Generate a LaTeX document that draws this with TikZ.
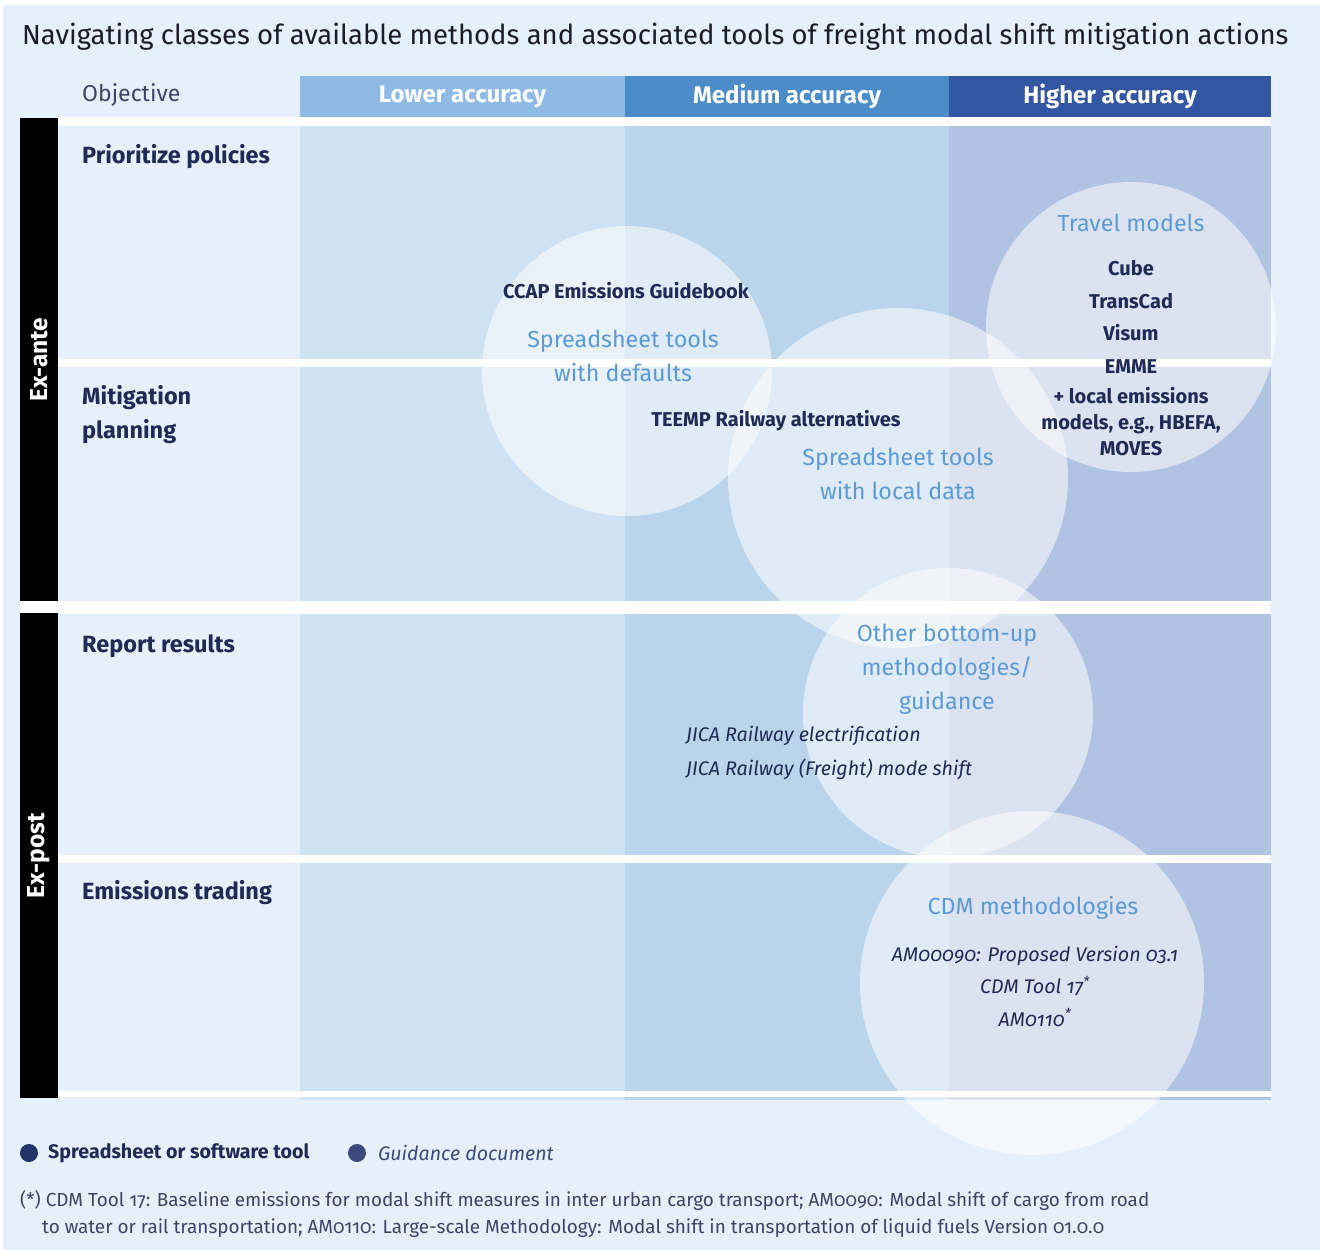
\documentclass[tikz,border=0pt]{standalone}
\usepackage{fontspec}
\setmainfont{Fira Sans}[Numbers=OldStyle]
\definecolor{bgblue}{HTML}{E6F0FA}
\definecolor{cellA}{HTML}{CFE2F3}
\definecolor{cellB}{HTML}{BAD4EC}
\definecolor{cellC}{HTML}{B0C3E2}
\definecolor{hdrA}{HTML}{8EBAE5}
\definecolor{hdrB}{HTML}{4B8CC9}
\definecolor{hdrC}{HTML}{3356A2}
\definecolor{navy}{HTML}{1F2A55}
\definecolor{skyblue}{HTML}{5C9AD5}
\definecolor{slate}{HTML}{3D4466}
\definecolor{titlecol}{HTML}{1C1C28}
\definecolor{dotA}{HTML}{22336A}
\definecolor{dotB}{HTML}{3C4A7C}
\newcommand{\fsz}[2]{\fontsize{#1}{#2}\selectfont}
\begin{document}
\begin{tikzpicture}[x=1pt,y=-1pt,
  hdr/.style={fill=#1,text=white,font=\bfseries\fsz{24}{26},minimum height=41pt,minimum width=324pt,inner sep=0pt,anchor=center},
  rowlabel/.style={text=navy,font=\bfseries\fsz{23.5}{34},anchor=west,align=left,inner sep=0pt},
  sidebar/.style={fill=black,minimum width=38pt,inner sep=0pt},
  sidetext/.style={text=white,font=\bfseries\fsz{24.5}{26},rotate=90,inner sep=0pt},
  bubble/.style={circle,fill=white,fill opacity=0.55,inner sep=0pt,minimum size=#1},
  classname/.style={text=skyblue,font=\fsz{23.3}{34},align=center,inner sep=0pt},
  toolname/.style={text=navy,font=\bfseries\fsz{20}{26},align=center,inner sep=0pt},
  guidename/.style={text=navy,font=\itshape\fsz{19.7}{32.5},align=center,inner sep=0pt},
  note/.style={text=slate,font=\fsz{18.9}{22},anchor=west,inner sep=0pt}]
\useasboundingbox (0,0) rectangle (1320,1250);
\fill[white] (0,0) rectangle (1320,1250);
\fill[bgblue] (3,5) rectangle (1320,1250);

% title
\node[text=titlecol,font=\fsz{27.5}{30},anchor=west,inner sep=0pt] (title) at (22,37)
  {Navigating classes of available methods and associated tools of freight modal shift mitigation actions};

% column header
\node[text=slate,font=\fsz{23}{26},anchor=west,inner sep=0pt] (objective) at (82,95) {Objective};
\node[hdr=hdrA,minimum width=325pt] (hlow) at (462.5,96.5) {Lower accuracy};
\node[hdr=hdrB,minimum width=324pt] (hmed) at (787,96.5) {Medium accuracy};
\node[hdr=hdrC,minimum width=322pt] (hhigh) at (1110,96.5) {Higher accuracy};

% accuracy columns
\fill[cellA] (300,118) rectangle (625,1100);
\fill[cellB] (625,118) rectangle (949,1100);
\fill[cellC] (949,118) rectangle (1271,1100);

% white separators between rows
\fill[white] (58,117) rectangle (1271,126);
\fill[white] (58,359) rectangle (1271,367);
\fill[white] (20,601) rectangle (1271,614);
\fill[white] (58,855) rectangle (1271,863);
\fill[white] (58,1091) rectangle (1271,1097);

% phase bars
\node[sidebar,minimum height=483pt,anchor=north west] (exante) at (20,118) {};
\node[sidebar,minimum height=485pt,anchor=north west] (expost) at (20,613) {};
\node[sidetext] (exantetxt) at (exante.center) {Ex-ante};
\node[sidetext] (exposttxt) at (expost.center) {Ex-post};

% objectives
\node[rowlabel] (prio) at (82,157) {Prioritize policies};
\node[rowlabel] (mitig) at (82,415) {Mitigation\\planning};
\node[rowlabel] (report) at (82,646) {Report results};
\node[rowlabel] (trade) at (82,893) {Emissions trading};

% method classes
\node[bubble=290pt] (c1) at (627,371) {};
\node[bubble=340pt] (c2) at (898,478) {};
\node[bubble=290pt] (c3) at (1131,327) {};
\node[bubble=290pt] (c4) at (948,713) {};
\node[bubble=344pt] (c5) at (1032,983) {};

% class 1: spreadsheet tools with defaults
\node[toolname] (ccap) at (626,291) {CCAP Emissions Guidebook};
\node[classname] (sdef) at (623,356) {Spreadsheet tools\\with defaults};

% class 2: spreadsheet tools with local data
\node[toolname] (teemp) at (776,421) {TEEMP Railway alternatives};
\node[classname] (sloc) at (898,474) {Spreadsheet tools\\with local data};

% class 3: travel models
\node[classname] (travel) at (1131,223) {Travel models};
\node[toolname,font=\bfseries\fsz{20}{32.6}] (tmods) at (1131,317) {Cube\\TransCad\\Visum\\EMME};
\node[toolname] (local) at (1131,422) {+ local emissions\\models, e.g., HBEFA,\\MOVES};

% class 4: other bottom-up
\node[classname] (other) at (947,669) {Other bottom-up\\methodologies/\\guidance};
\node[guidename,anchor=west,align=left,font=\itshape\fsz{19.7}{34}] (jica) at (686,753) {JICA Railway electrification\\JICA Railway (Freight) mode shift};

% class 5: CDM
\node[classname] (cdm) at (1033,908) {CDM methodologies};
\node[guidename] (cdmlist) at (1035,986) {AM00090: Proposed Version 03.1\\CDM Tool 17\textsuperscript{*}\\AM0110\textsuperscript{*}};

% legend
\fill[dotA] (29,1153) circle[radius=9];
\node[text=navy,font=\bfseries\fsz{19.6}{22},anchor=west,inner sep=0pt] (legA) at (48,1153) {Spreadsheet or software tool};
\fill[dotB] (357,1153) circle[radius=9];
\node[text=dotB,font=\itshape\fsz{19.6}{22},anchor=west,inner sep=0pt] (legB) at (378,1153) {Guidance document};

% footnote
\node[note] (fn1) at (20,1201) {(*) CDM Tool 17: Baseline emissions for modal shift measures in inter urban cargo transport; AM0090: Modal shift of cargo from road};
\node[note] (fn2) at (42,1228) {to water or rail transportation; AM0110: Large-scale Methodology: Modal shift in transportation of liquid fuels Version 01.0.0};
\end{tikzpicture}
\end{document}
